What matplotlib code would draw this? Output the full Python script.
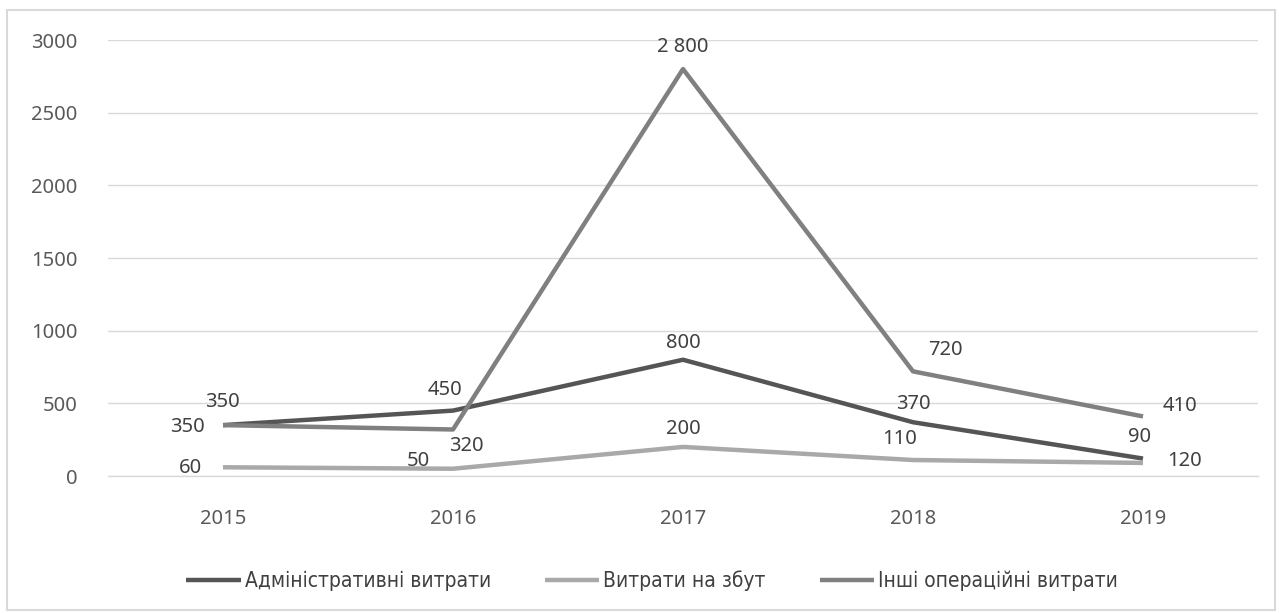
import matplotlib
matplotlib.use("Agg")
import matplotlib.pyplot as plt
from matplotlib.patches import Rectangle

years = ["2015", "2016", "2017", "2018", "2019"]
admin = [350, 450, 800, 370, 120]
sales = [60, 50, 200, 110, 90]
other = [350, 320, 2800, 720, 410]

admin_labels = ["350", "450", "800", "370", "120"]
sales_labels = ["60", "50", "200", "110", "90"]
other_labels = ["350", "320", "2 800", "720", "410"]

series_names = ["Адміністративні витрати", "Витрати на збут", "Інші операційні витрати"]
yticks = [0, 500, 1000, 1500, 2000, 2500, 3000]

# label offsets in pixels (dx, dy)
admin_off = [(-1, 23), (-8, 21), (0, 17), (0, 18), (42, -2)]
sales_off = [(-32, -1), (-35, 8), (0, 18), (-13, 21), (-3, 26)]
other_off = [(-36, -2), (13, -17), (0, 22), (32, 21), (37, 10)]

plt.rcParams['font.family'] = ['Noto Sans', 'DejaVu Sans']

fig = plt.figure(figsize=(12.79, 6.13), dpi=100)
ax = fig.add_axes([108/1279, 1-476/613, (1258-108)/1279, (476-40)/613])

x = list(range(len(years)))
c_admin = "#555555"
c_sales = "#a9a9a9"
c_other = "#808080"

l1, = ax.plot(x, admin, color=c_admin, lw=3.2, solid_capstyle='butt', zorder=3)
l2, = ax.plot(x, sales, color=c_sales, lw=3.2, solid_capstyle='butt', zorder=3)
l3, = ax.plot(x, other, color=c_other, lw=3.2, solid_capstyle='butt', zorder=3)

lab_color = "#404040"
for vals, labs, offs in [(admin, admin_labels, admin_off),
                         (sales, sales_labels, sales_off),
                         (other, other_labels, other_off)]:
    for xi, v, t, o in zip(x, vals, labs, offs):
        ax.annotate(t, xy=(xi, v), xytext=o, textcoords='offset pixels',
                    ha='center', va='center', fontsize=14.5, color=lab_color, zorder=4)

ax.set_xlim(-0.5, len(years) - 0.5)
ax.set_ylim(0, 3000)
ax.set_yticks(yticks)
ax.set_yticklabels([str(t) for t in yticks])
ax.set_xticks(x)
ax.set_xticklabels(years)
ax.tick_params(axis='both', length=0, labelsize=14.5, colors="#595959")
ax.tick_params(axis='y', pad=22)
ax.tick_params(axis='x', pad=24)
ax.grid(axis='y', color="#d9d9d9", lw=1)
ax.axhline(0, color="#d9d9d9", lw=1, clip_on=False, zorder=0)
ax.set_axisbelow(True)
for s in ax.spines.values():
    s.set_visible(False)

leg = fig.legend([l1, l2, l3], series_names, loc='center', bbox_to_anchor=(0.51, 0.053),
                 ncol=3, frameon=False, handlelength=2.6, columnspacing=2.6, handletextpad=0.2,
                 prop={'family': 'DejaVu Sans', 'stretch': 'condensed', 'size': 15})
for t in leg.get_texts():
    t.set_color("#404040")

fig.patches.append(Rectangle((7/1279, 1-610/613), (1275-7)/1279, (610-10)/613,
                             transform=fig.transFigure, fill=False, edgecolor="#d9d9d9", lw=1.5))

fig.savefig("out.png", dpi=100)
